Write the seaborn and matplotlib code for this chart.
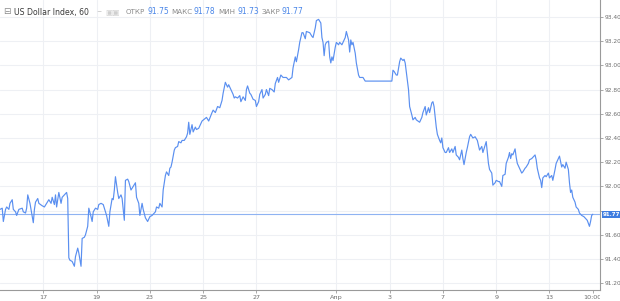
import matplotlib
matplotlib.use("Agg")
import matplotlib.pyplot as plt
import matplotlib.transforms as mtransforms
from matplotlib.transforms import Bbox
import seaborn as sns
import pandas as pd

# hourly bars (hours since the first bar) and closing price
hours = [0, 2, 3, 4, 5, 6, 8, 9, 11, 12, 14, 15, 17, 20, 21, 23, 24, 25, 27, 29,
         30, 31, 32, 34, 35, 38, 40, 42, 44, 46, 47, 49, 50, 51, 53, 55, 56, 58, 60, 61,
         62, 63, 65, 67, 68, 70, 71, 73, 74, 76, 77, 79, 80, 82, 83, 84, 86, 88, 89, 91,
         93, 95, 96, 98, 99, 101, 102, 103, 104, 106, 107, 109, 110, 112, 113, 115, 116, 118, 120, 122,
         123, 125, 126, 128, 129, 131, 133, 135, 137, 140, 141, 143, 144, 146, 147, 149, 150, 152, 153, 154,
         155, 157, 158, 160, 161, 163, 164, 166, 168, 169, 170, 171, 173, 174, 176, 177, 179, 182, 186, 188,
         191, 192, 194, 196, 198, 200, 201, 203, 205, 206, 208, 210, 211, 212, 214, 216, 217, 219, 221, 222,
         223, 225, 226, 228, 230, 231, 233, 234, 236, 237, 239, 240, 242, 243, 245, 247, 248, 250, 251, 253,
         255, 257, 258, 260, 263, 264, 266, 267, 269, 270, 272, 273, 275, 276, 279, 281, 282, 284, 285, 287,
         289, 290, 291, 292, 293, 294, 296, 297, 298, 299, 300, 302, 303, 305, 306, 308, 309, 311, 312, 314,
         315, 316, 317, 318, 320, 321, 323, 324, 327, 329, 353, 354, 355, 357, 358, 360, 361, 363, 364, 365,
         368, 369, 371, 372, 374, 375, 378, 380, 381, 383, 384, 386, 387, 389, 390, 391, 393, 394, 396, 397,
         398, 399, 401, 402, 404, 405, 407, 408, 410, 411, 413, 414, 416, 417, 418, 420, 421, 423, 424, 426,
         428, 430, 431, 432, 434, 435, 437, 438, 439, 440, 441, 443, 444, 446, 447, 449, 450, 452, 453, 455,
         456, 458, 459, 460, 461, 462, 464, 465, 466, 468, 470, 471, 473, 474, 476, 477, 479, 480, 482, 483,
         484, 486, 487, 488, 489, 491, 492, 494, 495, 497, 498, 500, 501, 503, 504, 506, 507, 509, 510, 512,
         513, 514, 515, 516, 518, 519, 521, 522, 524, 526, 528, 529, 531, 532, 533, 534]
price = [91.81, 91.82, 91.71, 91.76, 91.81, 91.83, 91.81, 91.86, 91.89, 91.81, 91.79, 91.76, 91.81, 91.82, 91.79, 91.78, 91.82, 91.93, 91.86, 91.75,
         91.70, 91.81, 91.87, 91.90, 91.86, 91.84, 91.83, 91.86, 91.89, 91.86, 91.91, 91.85, 91.93, 91.83, 91.95, 91.86, 91.91, 91.93, 91.95, 91.90,
         91.41, 91.39, 91.38, 91.34, 91.42, 91.49, 91.45, 91.34, 91.57, 91.58, 91.60, 91.67, 91.82, 91.75, 91.71, 91.79, 91.82, 91.81, 91.85, 91.86,
         91.85, 91.79, 91.76, 91.67, 91.79, 91.90, 91.89, 91.97, 92.08, 91.95, 91.90, 91.93, 91.90, 91.72, 92.05, 92.06, 92.04, 91.97, 92.00, 92.03,
         91.91, 91.86, 91.76, 91.86, 91.81, 91.74, 91.71, 91.75, 91.76, 91.79, 91.83, 91.82, 91.86, 91.83, 91.97, 92.09, 92.12, 92.09, 92.15, 92.16,
         92.20, 92.30, 92.32, 92.33, 92.37, 92.36, 92.38, 92.38, 92.41, 92.44, 92.53, 92.43, 92.51, 92.45, 92.49, 92.47, 92.48, 92.54, 92.57, 92.54,
         92.61, 92.63, 92.61, 92.66, 92.65, 92.71, 92.77, 92.86, 92.82, 92.84, 92.80, 92.76, 92.73, 92.74, 92.73, 92.75, 92.70, 92.74, 92.71, 92.80,
         92.83, 92.77, 92.76, 92.72, 92.71, 92.66, 92.70, 92.76, 92.80, 92.73, 92.76, 92.80, 92.75, 92.81, 92.80, 92.78, 92.85, 92.90, 92.86, 92.92,
         92.90, 92.90, 92.90, 92.88, 92.90, 92.98, 93.07, 93.03, 93.13, 93.19, 93.27, 93.27, 93.22, 93.28, 93.27, 93.24, 93.23, 93.31, 93.37, 93.38,
         93.35, 93.23, 93.19, 93.08, 93.17, 93.19, 93.20, 93.07, 93.02, 93.07, 93.04, 93.15, 93.19, 93.17, 93.19, 93.17, 93.19, 93.23, 93.28, 93.21,
         93.11, 93.21, 93.17, 93.19, 93.10, 93.02, 92.92, 92.90, 92.90, 92.87, 92.87, 92.96, 92.95, 92.92, 92.92, 93.03, 93.06, 93.04, 93.05, 93.02,
         92.80, 92.66, 92.59, 92.55, 92.57, 92.55, 92.53, 92.57, 92.61, 92.66, 92.59, 92.65, 92.61, 92.69, 92.70, 92.66, 92.49, 92.43, 92.38, 92.36,
         92.40, 92.32, 92.28, 92.28, 92.32, 92.28, 92.31, 92.28, 92.33, 92.26, 92.24, 92.22, 92.30, 92.23, 92.18, 92.28, 92.32, 92.41, 92.43, 92.40,
         92.41, 92.38, 92.34, 92.30, 92.33, 92.28, 92.34, 92.37, 92.28, 92.19, 92.14, 92.11, 92.01, 92.03, 92.05, 92.04, 92.04, 92.00, 92.09, 92.10,
         92.19, 92.24, 92.28, 92.23, 92.27, 92.26, 92.31, 92.24, 92.19, 92.15, 92.11, 92.12, 92.15, 92.16, 92.19, 92.22, 92.23, 92.24, 92.26, 92.22,
         92.15, 92.07, 92.05, 91.99, 92.07, 92.09, 92.08, 92.11, 92.07, 92.09, 92.05, 92.14, 92.19, 92.23, 92.25, 92.16, 92.18, 92.15, 92.20, 92.14,
         92.03, 91.95, 91.97, 91.91, 91.87, 91.83, 91.81, 91.78, 91.76, 91.75, 91.73, 91.72, 91.67, 91.71, 91.76, 91.77]

x_tick_hours = [39, 87, 135, 183, 231, 303, 351, 399, 447, 495, 534]
x_tick_labels = ["17", "19", "23", "25", "27", "Апр", "3", "7", "9", "13", "10:00"]
y_ticks = [91.20, 91.40, 91.60, 91.80, 92.00, 92.20, 92.40, 92.60, 92.80, 93.00, 93.20, 93.40]

symbol = "US Dollar Index, 60"
ohlc_names = ["ОТКР", "МАКС", "МИН", "ЗАКР"]
ohlc_values = ["91.75", "91.78", "91.73", "91.77"]
last_price = 91.77

line_blue = "#5a8ff0"
tag_blue = "#3f7de0"
grid_col = "#eef0f4"
axis_col = "#9a9a9a"
text_gray = "#6e6e6e"

sns.set_style("white")
plt.rcParams["font.family"] = ["DejaVu Sans"]

df = pd.DataFrame({"hour": hours, "price": price})

fig = plt.figure(figsize=(6.2, 3.01), dpi=100)
ax = fig.add_axes([0.0, 11 / 301, 600 / 620, 290 / 301])

for yv in y_ticks:
    ax.axhline(yv, color=grid_col, lw=0.8, zorder=0)
for xv in x_tick_hours[:-1]:
    ax.axvline(xv, color=grid_col, lw=0.8, zorder=0)

ax.axhline(last_price, color="#8fb3f2", lw=0.8, zorder=1)
sns.lineplot(data=df, x="hour", y="price", ax=ax, color=line_blue, lw=0.85,
             estimator=None, sort=False, zorder=2)

ax.set_xlim(0, 540.5)
ax.set_ylim(91.144, 93.54)
ax.set_xlabel("")
ax.set_ylabel("")

for side in ["top", "left"]:
    ax.spines[side].set_visible(False)
for side in ["right", "bottom"]:
    ax.spines[side].set_color(axis_col)
    ax.spines[side].set_linewidth(0.8)

ax.yaxis.tick_right()
ax.set_yticks(y_ticks)
ax.set_yticklabels(["" if abs(v - 91.80) < 1e-6 else f"{v:.2f}" for v in y_ticks])
ax.set_xticks(x_tick_hours)
ax.set_xticklabels(x_tick_labels)
ax.tick_params(axis="y", which="both", right=True, length=2, width=0.6, color=axis_col,
               labelsize=4.2, labelcolor=text_gray, pad=1.2)
ax.tick_params(axis="x", which="both", bottom=True, length=2.5, width=0.6, color=axis_col,
               labelsize=4.6, labelcolor=text_gray, pad=1.2)

clip = Bbox.from_extents(0, 0, 600, 301)
for lab in ax.get_xticklabels():
    lab.set_clip_on(True)
    lab.set_clip_box(clip)

# last price tag on the price scale
trans = mtransforms.blended_transform_factory(ax.transAxes, ax.transData)
ax.text(1.005, last_price, f"{last_price:.2f}", transform=trans, ha="left", va="center",
        fontsize=4.0, color="white", fontweight="bold", zorder=5,
        bbox=dict(boxstyle="square,pad=0.2", fc=tag_blue, ec="none"))

# header legend
hy = 1 - 12 / 301
fig.text(3 / 620, hy, "⊟", fontsize=6.5, color="#8a8a8a", va="center")
fig.text(14 / 620, hy, symbol, fontsize=5.6, color="#3a3a3a", va="center")
fig.text(96 / 620, hy, "~", fontsize=4.5, color="#9a9a9a", va="center")
fig.text(105 / 620, hy, "▣▣", fontsize=5.5, color="#cfcfcf", va="center")
name_x = [126, 171, 218, 262]
val_x = [147, 193, 237, 282]
for nx, vx, n, v in zip(name_x, val_x, ohlc_names, ohlc_values):
    fig.text(nx / 620, hy, n, fontsize=5.1, color="#8a8a8a", va="center")
    fig.text(vx / 620, hy, v, fontsize=5.5, color="#4a86e8", va="center")

fig.savefig("out.png", dpi=100)
